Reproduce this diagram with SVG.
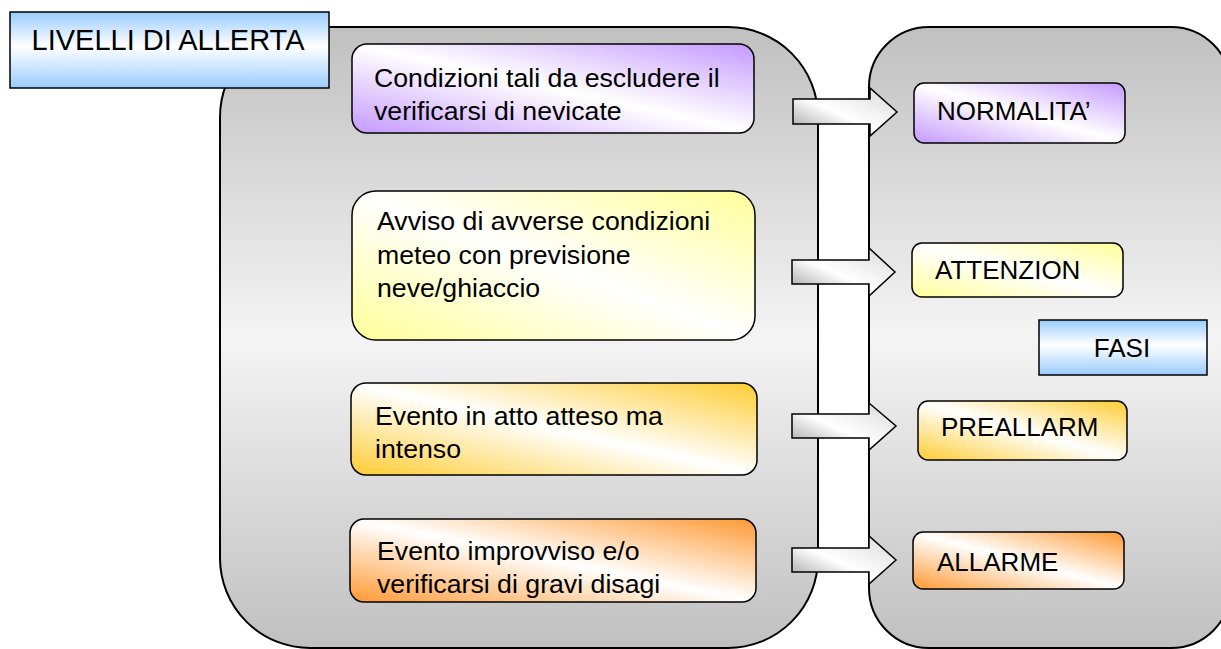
<svg xmlns="http://www.w3.org/2000/svg" width="1221" height="649" viewBox="0 0 1221 649">
<defs>
<linearGradient id="gPanel" x1="0" y1="0" x2="0" y2="1">
<stop offset="0" stop-color="#c0c0c0"/><stop offset="0.5" stop-color="#f4f4f4"/><stop offset="1" stop-color="#c0c0c0"/>
</linearGradient>
<linearGradient id="gBlue" x1="0" y1="0" x2="0" y2="1">
<stop offset="0" stop-color="#99ccff"/><stop offset="0.45" stop-color="#ffffff"/><stop offset="1" stop-color="#99ccff"/>
</linearGradient>
<linearGradient id="gPurple" x1="0" y1="1" x2="1" y2="0">
<stop offset="0" stop-color="#c499ff"/><stop offset="0.5" stop-color="#ffffff"/><stop offset="1" stop-color="#c499ff"/>
</linearGradient>
<linearGradient id="gYellow" x1="0" y1="1" x2="1" y2="0">
<stop offset="0" stop-color="#ffff99"/><stop offset="0.5" stop-color="#ffffff"/><stop offset="1" stop-color="#ffff99"/>
</linearGradient>
<linearGradient id="gGold" x1="0" y1="1" x2="1" y2="0">
<stop offset="0" stop-color="#ffcc33"/><stop offset="0.5" stop-color="#ffffff"/><stop offset="1" stop-color="#ffcc33"/>
</linearGradient>
<linearGradient id="gOrange" x1="0" y1="1" x2="1" y2="0">
<stop offset="0" stop-color="#ff9933"/><stop offset="0.5" stop-color="#ffffff"/><stop offset="1" stop-color="#ff9933"/>
</linearGradient>
<linearGradient id="gArrow" x1="0" y1="1" x2="1" y2="0">
<stop offset="0" stop-color="#9a9a9a"/><stop offset="0.45" stop-color="#ffffff"/><stop offset="1" stop-color="#d8d8d8"/>
</linearGradient>
<style>
.panel{fill:url(#gPanel);stroke:#000;stroke-width:2}
.box{stroke:#000;stroke-width:1.5}
.arrow{fill:url(#gArrow);stroke:#000;stroke-width:1.5;stroke-linejoin:miter}
text{font-family:"Liberation Sans",Arial,sans-serif;font-size:26px;fill:#000}
.title{font-size:29px}
.lt{font-size:26.7px}
</style>
</defs>
<g id="panels">
<rect id="panel-left" class="panel" x="220" y="27" width="598" height="621" rx="90" ry="90"/>
<rect id="panel-right" class="panel" x="869" y="27" width="362" height="621" rx="60" ry="60"/>
</g>
<g id="connectors">
<path class="arrow" d="M793,99 H870 V88 L897,112 L870,136 V124 H793 Z"/>
<path class="arrow" d="M792,260 H869 V248 L895,272 L869,296 V284 H792 Z"/>
<path class="arrow" d="M792,414 H869 V403 L896,426 L869,450 V438 H792 Z"/>
<path class="arrow" d="M792,548 H869 V536 L896,560 L869,584 V572 H792 Z"/>
</g>
<g id="livelli">
<rect class="box" x="10" y="12" width="319" height="76" fill="url(#gBlue)"/>
<text class="title" x="168" y="50" text-anchor="middle">LIVELLI DI ALLERTA</text>
</g>
<g id="fasi">
<rect class="box" x="1039" y="320" width="168" height="55" fill="url(#gBlue)"/>
<text x="1122" y="357" text-anchor="middle">FASI</text>
</g>
<g id="cond1">
<rect class="box" x="352" y="44" width="402" height="89" rx="15" fill="url(#gPurple)"/>
<text class="lt" x="374" y="87">Condizioni tali da escludere il</text>
<text class="lt" x="374" y="120">verificarsi di nevicate</text>
</g>
<g id="cond2">
<rect class="box" x="352" y="191" width="403" height="149" rx="24" fill="url(#gYellow)"/>
<text class="lt" x="377" y="230">Avviso di avverse condizioni</text>
<text class="lt" x="377" y="264">meteo con previsione</text>
<text class="lt" x="377" y="297">neve/ghiaccio</text>
</g>
<g id="cond3">
<rect class="box" x="351" y="383" width="406" height="92" rx="15" fill="url(#gGold)"/>
<text class="lt" x="375" y="425">Evento in atto atteso ma</text>
<text class="lt" x="375" y="458">intenso</text>
</g>
<g id="cond4">
<rect class="box" x="350" y="519" width="406" height="83" rx="14" fill="url(#gOrange)"/>
<text class="lt" x="377" y="560">Evento improvviso e/o</text>
<text class="lt" x="377" y="593">verificarsi di gravi disagi</text>
</g>
<g id="normalita">
<rect class="box" x="914" y="83" width="211" height="60" rx="10" fill="url(#gPurple)"/>
<text x="937" y="120">NORMALITA’</text>
</g>
<g id="attenzione">
<rect class="box" x="912" y="243" width="211" height="54" rx="10" fill="url(#gYellow)"/>
<text x="935" y="279">ATTENZION</text>
</g>
<g id="preallarme">
<rect class="box" x="918" y="401" width="209" height="59" rx="10" fill="url(#gGold)"/>
<text x="941" y="436">PREALLARM</text>
</g>
<g id="allarme">
<rect class="box" x="913" y="532" width="211" height="57" rx="10" fill="url(#gOrange)"/>
<text x="937" y="571">ALLARME</text>
</g>
</svg>
